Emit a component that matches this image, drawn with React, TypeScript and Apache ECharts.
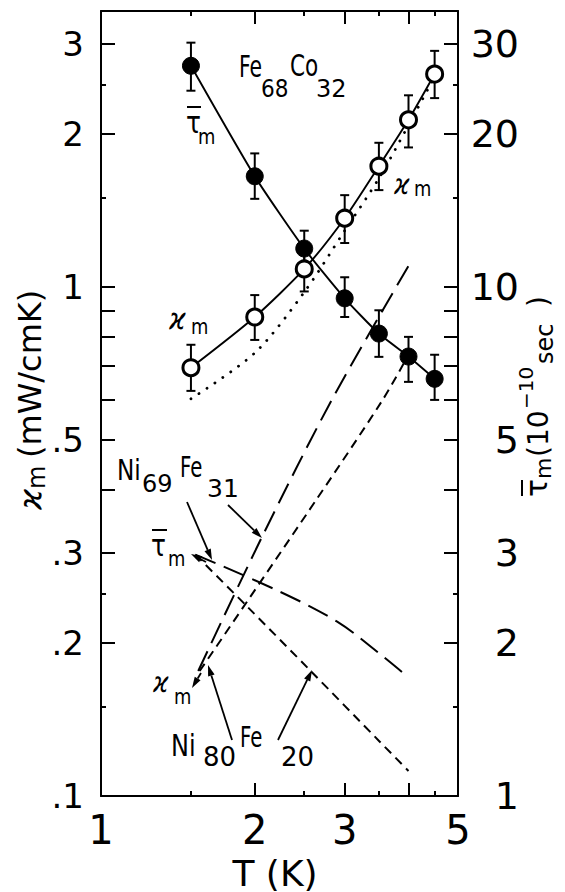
import React, { useEffect, useRef } from "react";
import * as echarts from "echarts";

// ---- data ----
const temperatures = [1.5, 2, 2.5, 3, 3.5, 4, 4.5];
const feCoTau = [27.2, 16.5, 11.9, 9.5, 8.1, 7.3, 6.6];
const feCoTauHigh = [30.2, 18.3, 12.9, 10.45, 9.0, 7.98, 7.36];
const feCoTauLow = [24.3, 14.9, 10.9, 8.73, 7.29, 6.51, 6.0];
const feCoKappa = [0.694, 0.873, 1.085, 1.365, 1.727, 2.13, 2.62];
const feCoKappaHigh = [0.77, 0.964, 1.21, 1.515, 1.92, 2.38, 2.91];
const feCoKappaLow = [0.625, 0.787, 0.98, 1.22, 1.55, 1.88, 2.35];
const feCoKappaDotted = [0.603, 0.742, 0.977, 1.29, 1.635, 2.08, 2.59];

const ni69KappaT = [1.55, 2.07, 2.83, 4.0];
const ni69Kappa = [0.176, 0.324, 0.6, 1.1];
const ni80KappaT = [1.56, 2.64, 3.56, 3.97];
const ni80Kappa = [0.176, 0.382, 0.6, 0.726];
const ni69TauT = [1.53, 2.24, 2.9, 3.52, 4.0];
const ni69Tau = [2.98, 2.52, 2.2, 1.9, 1.71];
const ni80TauT = [1.53, 1.93, 2.56, 3.51, 4.0];
const ni80Tau = [2.98, 2.36, 1.77, 1.28, 1.12];

const xLabelTicks = [1, 2, 3, 5];
const xMajorTicks = [2, 3, 4];
const xMinorTicks = [1.5, 2.5, 3.5, 4.5];
const kappaLabelTicks = [0.1, 0.2, 0.3, 0.5, 1, 2, 3];
const kappaMajorTicks = [0.2, 0.3, 0.4, 0.5, 0.6, 0.7, 0.8, 0.9, 1, 2, 3];
const kappaMinorTicks = [0.15, 0.25, 1.5, 2.5];
const tauLabelTicks = [1, 2, 3, 5, 10, 20, 30];
const tauMajorTicks = [2, 3, 4, 5, 6, 7, 8, 9, 10, 20, 30];
const tauMinorTicks = [1.5, 2.5, 15, 25];

const X_MIN = 1, X_MAX = 5;
const K_MIN = 0.1, K_MAX = 3.485;
const T_MIN = 1, T_MAX = 34.85;

const FONT = "'DejaVu Sans', 'Liberation Sans', sans-serif";
const INK = "#000";

const pairs = (xs: number[], ys: number[]) => xs.map((x, i) => [x, ys[i]]);

function txt(text: string, x: number, y: number, size: number, opts: any = {}) {
  const { sx = 1, italic = false, align = "left" } = opts;
  return {
    type: "text",
    x,
    y,
    scaleX: sx,
    silent: true,
    style: {
      text,
      fontSize: size,
      fontFamily: FONT,
      fontStyle: italic ? "italic" : "normal",
      fill: INK,
      align,
      verticalAlign: "middle",
      textAlign: align,
      textVerticalAlign: "middle",
    },
  };
}

function bar(x1: number, y1: number, x2: number, y2: number, w = 2) {
  return { type: "line", silent: true, shape: { x1, y1, x2, y2 }, style: { stroke: INK, lineWidth: w } };
}

function arrow(x1: number, y1: number, x2: number, y2: number) {
  const a = Math.atan2(y2 - y1, x2 - x1);
  const L = 11, W = 3.4;
  const bx = x2 - L * Math.cos(a), by = y2 - L * Math.sin(a);
  const px = -Math.sin(a) * W, py = Math.cos(a) * W;
  return [
    bar(x1, y1, bx, by, 1.8),
    { type: "polygon", silent: true, shape: { points: [[x2, y2], [bx + px, by + py], [bx - px, by - py]] }, style: { fill: INK } },
  ];
}

function xAxisDef(position: string, ticks: number[], len: number, labels: boolean, line: boolean) {
  return {
    type: "log", logBase: 10, min: X_MIN, max: X_MAX, position,
    splitLine: { show: false },
    axisLine: { show: line, lineStyle: { color: INK, width: 2 } },
    axisTick: { show: true, inside: true, length: len, customValues: ticks, lineStyle: { color: INK, width: 2 } },
    axisLabel: labels
      ? { show: true, customValues: xLabelTicks, margin: 14, fontSize: 40, color: INK, fontFamily: FONT, formatter: (v: number) => String(Math.round(v)) }
      : { show: false },
  };
}

function yAxisDef(position: string, min: number, max: number, ticks: number[], len: number, labelTicks: number[] | null, line: boolean, fmt: any, labelOpts: any = {}) {
  return {
    type: "log", logBase: 10, min, max, position,
    splitLine: { show: false },
    axisLine: { show: line, lineStyle: { color: INK, width: 2 } },
    axisTick: { show: true, inside: true, length: len, customValues: ticks, lineStyle: { color: INK, width: 2 } },
    axisLabel: labelTicks
      ? { show: true, customValues: labelTicks, color: INK, fontFamily: FONT, formatter: fmt, ...labelOpts }
      : { show: false },
  };
}

const kappaFmt = (v: number) => (v < 1 ? "." + String(Math.round(v * 10)) : String(Math.round(v)));
const tauFmt = (v: number) => String(Math.round(v));

function errorBars(yAxisIndex: number, lows: number[], highs: number[]) {
  return {
    type: "custom",
    xAxisIndex: 0,
    yAxisIndex,
    z: 3,
    silent: true,
    data: temperatures.map((t, i) => [t, lows[i], highs[i]]),
    encode: { x: 0, y: [1, 2] },
    renderItem: (params: any, api: any) => {
      const lo = api.coord([api.value(0), api.value(1)]);
      const hi = api.coord([api.value(0), api.value(2)]);
      const w = 4.5;
      const st = { stroke: INK, lineWidth: 2 };
      return {
        type: "group",
        children: [
          { type: "line", shape: { x1: lo[0], y1: lo[1], x2: hi[0], y2: hi[1] }, style: st },
          { type: "line", shape: { x1: lo[0] - w, y1: lo[1], x2: lo[0] + w, y2: lo[1] }, style: st },
          { type: "line", shape: { x1: hi[0] - w, y1: hi[1], x2: hi[0] + w, y2: hi[1] }, style: st },
        ],
      };
    },
  };
}

function curve(xs: number[], ys: number[], yAxisIndex: number, dash: number[], width = 2, smooth = 0.3, cap = "butt") {
  return {
    type: "line",
    xAxisIndex: 0,
    yAxisIndex,
    data: pairs(xs, ys),
    symbol: "none",
    showSymbol: false,
    smooth,
    silent: true,
    z: 2,
    lineStyle: { color: INK, width, type: dash, cap },
  };
}

const graphics: any[] = [
  // Fe68Co32
  txt("Fe", 239, 66, 30, { sx: 0.68 }),
  txt("68", 261, 89, 24, { sx: 0.9 }),
  txt("Co", 290, 66, 30, { sx: 0.72 }),
  txt("32", 316, 89, 24),
  // tau-bar m (upper)
  txt("τ", 186, 123, 31, { sx: 0.8 }),
  bar(187, 107, 201, 107),
  txt("m", 198, 137, 21, { sx: 0.85 }),
  // kappa m (upper left)
  txt("ϰ", 169, 319, 30, { italic: true, sx: 0.85 }),
  txt("m", 191, 327, 21, { sx: 0.85 }),
  // kappa m (right)
  txt("ϰ", 394, 184, 28, { italic: true, sx: 0.85 }),
  txt("m", 414, 189, 21, { sx: 0.85 }),
  // Ni69Fe31
  txt("Ni", 117, 470, 29, { sx: 0.8 }),
  txt("69", 142, 484, 24),
  txt("Fe", 180, 467, 29, { sx: 0.68 }),
  txt("31", 207, 488, 25),
  // tau-bar m (lower)
  txt("τ", 151, 546, 31, { sx: 0.8 }),
  bar(152, 530, 167, 530),
  txt("m", 168, 559, 21, { sx: 0.85 }),
  // kappa m (lower)
  txt("ϰ", 153, 682, 28, { italic: true, sx: 0.85 }),
  txt("m", 174, 697, 21, { sx: 0.85 }),
  // Ni80Fe20
  txt("Ni", 171, 746, 30, { sx: 0.8 }),
  txt("80", 203, 757, 26),
  txt("Fe", 240, 737, 29, { sx: 0.68 }),
  txt("20", 281, 757, 26),
  ...arrow(187, 502, 212, 560),
  ...arrow(228, 505, 262, 538),
  ...arrow(232, 740, 208, 665),
  ...arrow(278, 740, 312, 670),
  ...arrow(206, 562, 191, 554),
  ...arrow(201, 673, 192, 688),
  // x axis title
  txt("T (K)", 275, 873, 36, { align: "center" }),
  // left axis title (rotated)
  {
    type: "group",
    x: 30,
    y: 510,
    rotation: Math.PI / 2,
    children: [
      txt("ϰ", 0, 0, 32, { italic: true }),
      txt("m", 21, 7, 24),
      txt("(mW/cmK)", 52, 0, 32),
    ],
  },
  // right axis title (rotated)
  {
    type: "group",
    x: 536,
    y: 497,
    rotation: Math.PI / 2,
    children: [
      txt("τ", 0, 0, 30),
      bar(1, -14, 17, -14),
      txt("m", 18, 7, 22),
      txt("(10", 40, 2, 28),
      txt("−10", 88, -10, 20),
      txt("sec", 133, 9, 24),
      txt(")", 190, 2, 28),
    ],
  },
];

const option: any = {
  animation: false,
  backgroundColor: "#fff",
  grid: { left: 101, right: 107, top: 11, bottom: 96, containLabel: false },
  xAxis: [
    xAxisDef("bottom", xMajorTicks, 13, true, true),
    xAxisDef("bottom", xMinorTicks, 5, false, false),
    xAxisDef("top", xMajorTicks, 13, false, true),
    xAxisDef("top", xMinorTicks, 5, false, false),
  ],
  yAxis: [
    yAxisDef("left", K_MIN, K_MAX, kappaMajorTicks, 14, kappaLabelTicks, true, kappaFmt, { fontSize: 34, margin: 17 }),
    yAxisDef("left", K_MIN, K_MAX, kappaMinorTicks, 5, null, false, null),
    yAxisDef("right", T_MIN, T_MAX, tauMajorTicks, 14, tauLabelTicks, true, tauFmt, { fontSize: 38, margin: 61, align: "right" }),
    yAxisDef("right", T_MIN, T_MAX, tauMinorTicks, 5, null, false, null),
  ],
  graphic: { elements: graphics },
  series: [
    curve(temperatures, feCoKappaDotted, 0, [0.1, 9.5], 2.8, 0.3, "round"),
    curve(ni69KappaT, ni69Kappa, 0, [22, 9], 2, 0.3),
    curve(ni80KappaT, ni80Kappa, 0, [9, 6], 2, 0.3),
    curve(ni69TauT, ni69Tau, 2, [22, 9], 2, 0.35),
    curve(ni80TauT, ni80Tau, 2, [9, 6], 2, 0.3),
    errorBars(0, feCoKappaLow, feCoKappaHigh),
    errorBars(2, feCoTauLow, feCoTauHigh),
    {
      type: "line",
      xAxisIndex: 0,
      yAxisIndex: 0,
      data: pairs(temperatures, feCoKappa),
      symbol: "circle",
      symbolSize: 16,
      smooth: 0.25,
      silent: true,
      z: 4,
      itemStyle: { color: "#fff", borderColor: INK, borderWidth: 3 },
      lineStyle: { color: INK, width: 1.9 },
    },
    {
      type: "line",
      xAxisIndex: 0,
      yAxisIndex: 2,
      data: pairs(temperatures, feCoTau),
      symbol: "circle",
      symbolSize: 17,
      smooth: 0.2,
      silent: true,
      z: 4,
      itemStyle: { color: INK, borderColor: INK, borderWidth: 1 },
      lineStyle: { color: INK, width: 1.9 },
    },
  ],
};

export default function App() {
  const ref = useRef<HTMLDivElement>(null);
  useEffect(() => {
    const chart = echarts.init(ref.current as HTMLDivElement, null, { renderer: "svg" });
    chart.setOption(option);
    return () => chart.dispose();
  }, []);
  return (
    <div
      ref={ref}
      style={{ position: "absolute", left: 0, top: 0, width: 565, height: 892, background: "#fff" }}
    />
  );
}
